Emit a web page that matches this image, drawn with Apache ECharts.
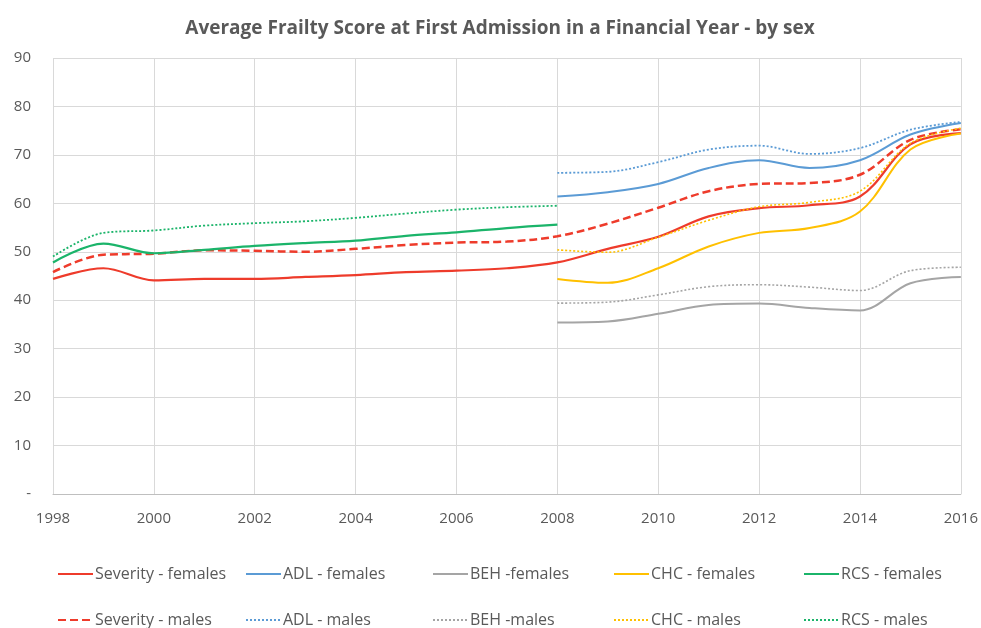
<!DOCTYPE html>
<html>
<head>
<meta charset="utf-8">
<script src="https://cdn.jsdelivr.net/npm/echarts@6/dist/echarts.min.js"></script>
<style>
  html, body { margin: 0; padding: 0; background: #fff; }
  #chart { width: 981px; height: 628px; }
</style>
</head>
<body>
<div id="chart"></div>
<script>
const years = [1998, 1999, 2000, 2001, 2002, 2003, 2004, 2005, 2006, 2007, 2008, 2009, 2010, 2011, 2012, 2013, 2014, 2015, 2016];

// values, null where a series has no data
const severityFemales = [44.4, 46.6, 44.1, 44.4, 44.4, 44.8, 45.2, 45.8, 46.1, 46.6, 47.8, 50.6, 53.1, 57.3, 59.0, 59.6, 61.4, 72.2, 74.5];
const severityMales = [45.8, 49.4, 49.6, 50.3, 50.2, 50.0, 50.6, 51.4, 51.9, 52.1, 53.2, 55.8, 59.1, 62.5, 64.0, 64.2, 65.9, 73.1, 75.3];
const adlFemales = [null, null, null, null, null, null, null, null, null, null, 61.4, 62.3, 64.0, 67.3, 68.9, 67.3, 68.9, 74.2, 76.6];
const adlMales = [null, null, null, null, null, null, null, null, null, null, 66.3, 66.5, 68.5, 71.1, 71.9, 70.2, 71.4, 75.2, 76.8];
const behFemales = [null, null, null, null, null, null, null, null, null, null, 35.4, 35.6, 37.2, 39.0, 39.3, 38.4, 37.9, 43.5, 44.8];
const behMales = [null, null, null, null, null, null, null, null, null, null, 39.4, 39.6, 41.1, 42.8, 43.2, 42.7, 42.0, 46.1, 46.8];
const chcFemales = [null, null, null, null, null, null, null, null, null, null, 44.4, 43.6, 46.6, 51.1, 53.9, 54.9, 58.3, 71.1, 74.4];
const chcMales = [null, null, null, null, null, null, null, null, null, null, 50.4, 49.9, 53.0, 56.5, 59.3, 60.2, 62.5, 72.4, 75.5];
const rcsFemales = [47.8, 51.7, 49.7, 50.4, 51.2, 51.8, 52.3, 53.3, 54.0, 54.9, 55.6, null, null, null, null, null, null, null, null];
const rcsMales = [49.0, 53.9, 54.4, 55.4, 55.9, 56.3, 57.0, 57.9, 58.7, 59.2, 59.5, null, null, null, null, null, null, null, null];

const yTicks = [0, 10, 20, 30, 40, 50, 60, 70, 80, 90];

const RED = "#EE3B2B";
const BLUE = "#5B9BD5";
const GRAY = "#A5A5A5";
const YELLOW = "#FFC000";
const GREEN = "#1BB46A";
const TEXT = "#595959";
const FONT = "'Open Sans', 'Liberation Sans', sans-serif";

function pairs(values) {
  return years.map((y, i) => [y, values[i]]).filter((p) => p[1] !== null);
}

function lineSeries(name, values, color, type, width) {
  return {
    name: name,
    type: "line",
    data: pairs(values),
    smooth: 0.35,
    symbol: "none",
    itemStyle: { color: color },
    lineStyle: { color: color, type: type, width: width, cap: "butt" },
    z: 3
  };
}

const series = [
  lineSeries("Severity - females", severityFemales, RED, "solid", 2.2),
  lineSeries("Severity - males", severityMales, RED, [8, 4], 2.5),
  lineSeries("ADL - females", adlFemales, BLUE, "solid", 2),
  lineSeries("ADL - males", adlMales, BLUE, [2, 2], 1.8),
  lineSeries("BEH -females", behFemales, GRAY, "solid", 2),
  lineSeries("BEH -males", behMales, GRAY, [2, 2], 1.6),
  lineSeries("CHC - females", chcFemales, YELLOW, "solid", 2),
  lineSeries("CHC - males", chcMales, YELLOW, [2, 2], 1.6),
  lineSeries("RCS - females", rcsFemales, GREEN, "solid", 2.2),
  lineSeries("RCS - males", rcsMales, GREEN, [2, 2], 1.8)
];

// one legend per item so each sits where the reference puts it
const legendLefts = [57, 245, 432, 613, 803];
const legendTops = [566, 612];
const legends = [];
series.forEach((s, i) => {
  legends.push({
    data: [s.name],
    left: legendLefts[Math.floor(i / 2)],
    top: legendTops[i % 2],
    padding: 0,
    itemWidth: 35,
    itemHeight: 14,
    itemStyle: { opacity: 0 },
    textStyle: { color: TEXT, fontSize: 16, fontFamily: FONT, lineHeight: 16, padding: [0, 0, 0, -3] }
  });
});

const chart = echarts.init(document.getElementById("chart"));

chart.setOption({
  backgroundColor: "#fff",
  animation: false,
  title: {
    text: "Average Frailty Score at First Admission in a Financial Year - by sex",
    left: 495,
    textAlign: "center",
    top: 14,
    textStyle: { color: TEXT, fontSize: 19, fontWeight: "bold", fontFamily: FONT }
  },
  legend: legends,
  grid: { left: 53, right: 20, top: 58, bottom: 134, containLabel: false },
  xAxis: {
    type: "value",
    min: 1998,
    max: 2016,
    interval: 2,
    axisLine: { show: true, lineStyle: { color: "#BFBFBF", width: 1 } },
    axisTick: { show: false },
    axisLabel: { color: TEXT, fontSize: 15, fontFamily: FONT, margin: 17, formatter: (v) => String(v) },
    splitLine: { show: true, lineStyle: { color: "#D9D9D9", width: 1 } }
  },
  yAxis: {
    type: "value",
    min: yTicks[0],
    max: yTicks[yTicks.length - 1],
    interval: 10,
    axisLine: { show: false },
    axisTick: { show: false },
    axisLabel: {
      color: TEXT,
      fontSize: 15,
      fontFamily: FONT,
      margin: 22,
      formatter: (v) => (v === 0 ? "-" : String(v))
    },
    splitLine: { show: true, lineStyle: { color: "#D9D9D9", width: 1 } }
  },
  series: series
});
</script>
</body>
</html>
